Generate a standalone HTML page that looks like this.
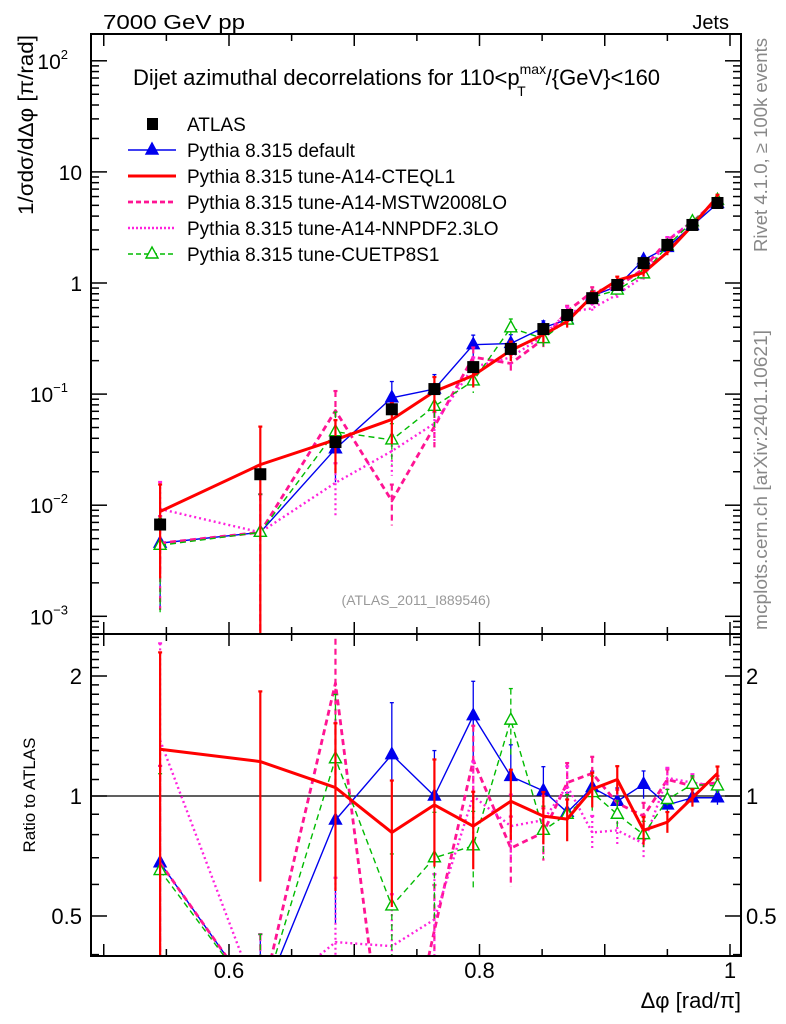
<!DOCTYPE html>
<html><head><meta charset="utf-8">
<style>
html,body{margin:0;padding:0;background:#fff;overflow:hidden;width:786px;height:1024px;}
svg{display:block;font-family:"Liberation Sans",sans-serif;}
</style></head>
<body>
<svg id="chart" width="786" height="1024" viewBox="0 0 786 1024" xmlns="http://www.w3.org/2000/svg">
<defs>
<clipPath id="clipMain"><rect x="91" y="34" width="650" height="600"/></clipPath>
<clipPath id="clipRatio"><rect x="91" y="634" width="650" height="322"/></clipPath>
</defs>
<text x="103" y="29" font-size="20" textLength="142" lengthAdjust="spacingAndGlyphs">7000 GeV pp</text>
<text x="729" y="29" font-size="20" text-anchor="end">Jets</text>
<text x="133" y="85" font-size="22">Dijet azimuthal decorrelations for 110&lt;p<tspan font-size="14" dy="-11">max</tspan><tspan font-size="14" dx="-29" dy="22">T</tspan><tspan dy="-11" dx="20">/{GeV}&lt;160</tspan></text>
<text transform="translate(33,125) rotate(-90)" font-size="21" text-anchor="middle" textLength="180" lengthAdjust="spacingAndGlyphs">1/σdσ/dΔφ [π/rad]</text>
<text transform="translate(35,795) rotate(-90)" font-size="17" text-anchor="middle">Ratio to ATLAS</text>
<text x="741" y="1008" font-size="22" text-anchor="end">Δφ [rad/π]</text>
<text transform="translate(767,145) rotate(-90)" font-size="18" fill="#888" text-anchor="middle" textLength="214" lengthAdjust="spacingAndGlyphs">Rivet 4.1.0, ≥ 100k events</text>
<text transform="translate(767,480) rotate(-90)" font-size="18" fill="#888" text-anchor="middle" textLength="300" lengthAdjust="spacingAndGlyphs">mcplots.cern.ch [arXiv:2401.10621]</text>
<text x="416" y="605" font-size="14" fill="#999" text-anchor="middle">(ATLAS_2011_I889546)</text>
<g id="axes"></g>
<g id="mainData" clip-path="url(#clipMain)"></g>
<g id="ratioData" clip-path="url(#clipRatio)"></g>
<g id="legend"></g>
<rect x="91" y="34" width="650" height="600" fill="none" stroke="#000" stroke-width="2"/>
<rect x="91" y="634" width="650" height="322" fill="none" stroke="#000" stroke-width="2"/>
</svg>
<script>
const xValues = [0.545,0.625,0.685,0.730,0.764,0.795,0.825,0.851,0.870,0.890,0.910,0.931,0.950,0.970,0.990];
const atlasValues = [0.0067,0.019,0.037,0.073,0.111,0.175,0.255,0.385,0.515,0.73,0.96,1.51,2.2,3.33,5.25];
const ratioDefault = [0.68,0.30,0.87,1.27,1.0,1.59,1.12,1.03,0.91,1.05,0.97,1.07,0.95,0.99,0.99];
const ratioCTEQL1 = [1.31,1.22,1.05,0.81,0.95,0.84,0.97,0.89,0.875,1.04,1.10,0.82,0.86,0.99,1.14];
const ratioMSTW = [0.68,0.30,1.92,0.15,0.46,1.23,0.74,0.81,1.08,1.14,0.96,0.89,1.10,1.06,1.08];
const ratioNNPDF = [1.38,0.30,0.43,0.42,0.49,1.0,0.84,0.87,1.06,0.81,0.82,0.76,1.11,1.08,1.06];
const ratioCUETP8S1 = [0.65,0.30,1.24,0.53,0.70,0.75,1.55,0.82,0.90,1.02,0.90,0.80,0.98,1.07,1.06];
const relErrors = [0.75,1.2,0.5,0.4,0.35,0.22,0.2,0.15,0.12,0.1,0.08,0.08,0.06,0.05,0.04];
const ratioRelErrors = [0.75,0.5,0.45,0.35,0.3,0.22,0.2,0.15,0.12,0.1,0.08,0.08,0.06,0.05,0.04];
const xTickLabels = ["0.6","0.8","1"];
const ratioTickLabels = ["0.5","1","2"];

const NS="http://www.w3.org/2000/svg";
function X(v){return 229+(v-0.6)*1252.5;}
function YM(v){return 283-111.1*Math.log10(v);}
function YR(v){return 796-398.6*Math.log10(v);}
function mk(tag,attrs,parent){const e=document.createElementNS(NS,tag);for(const k in attrs)e.setAttribute(k,attrs[k]);parent.appendChild(e);return e;}
const axes=document.getElementById('axes');
const mainG=document.getElementById('mainData');
const ratioG=document.getElementById('ratioData');
const legG=document.getElementById('legend');

for(let i=0;i<=10;i++){
  const v=0.5+i*0.05; const x=X(v); if(x<92||x>740)continue;
  const major=Math.abs(v*10-Math.round(v*10))<1e-6;
  const L=major?12:7;
  [[634,634-L],[34,34+L],[956,956-L],[634,634+L]].forEach(p=>{
    const t=mk('line',{x1:x,x2:x,y1:p[0],y2:p[1],stroke:'#000','stroke-width':1.5},axes);
    
    
  });
}
xTickLabels.forEach(s=>{
  const t=mk('text',{x:X(parseFloat(s)),y:978,'font-size':22,'text-anchor':'middle'},axes);
  t.textContent=s;
  
  
});
for(let d=-4;d<=2;d++){
  for(let m=1;m<=9;m++){
    const v=m*Math.pow(10,d); const y=YM(v); if(y<35||y>633)continue;
    const L=m===1?16:8;
    [[91,91+L],[741,741-L]].forEach(p=>{
      const t=mk('line',{x1:p[0],x2:p[1],y1:y,y2:y,stroke:'#000','stroke-width':1.5},axes);
      
      
    });
  }
}
const yLabels=[[2,"10","2"],[1,"10",""],[0,"1",""],[-1,"10","−1"],[-2,"10","−2"],[-3,"10","−3"]];
yLabels.forEach(l=>{
  const y=YM(Math.pow(10,l[0]))+8;
  const t=mk('text',{x:l[2]?68:82,y:y,'font-size':21,'text-anchor':'end'},axes);
  t.textContent=l[1];
  
  
  if(l[2]){const s=mk('tspan',{'font-size':13,dy:-10},t);s.textContent=l[2];}
});
[0.4,0.5,0.6,0.7,0.8,0.9,1,1.1,1.2,1.3,1.4,1.5,1.6,1.7,1.8,1.9,2,2.1,2.2,2.3,2.4,2.5].forEach(v=>{
  const y=YR(v); if(y<635||y>955)return;
  const maj=(v===0.5||v===1||v===2);
  const L=maj?16:8;
  [[91,91+L],[741,741-L]].forEach(p=>{
    const t=mk('line',{x1:p[0],x2:p[1],y1:y,y2:y,stroke:'#000','stroke-width':1.5},axes);
    
    
  });
});
ratioTickLabels.forEach(s=>{
  const y=YR(parseFloat(s))+8;
  const t=mk('text',{x:82,y:y,'font-size':22,'text-anchor':'end'},axes);
  t.textContent=s;
  
  
  const t2=mk('text',{x:746,y:y,'font-size':22},axes);
  t2.textContent=s;
  
  
});
const one=mk('line',{x1:91,x2:741,y1:YR(1),y2:YR(1),stroke:'#000','stroke-width':1.2},ratioG);



const series=[
 {name:'default',ratio:ratioDefault,color:'#0000ee',w:1.4,dash:'',marker:'tri-fill'},
 {name:'mstw2008lo',ratio:ratioMSTW,color:'#ff1493',w:2.8,dash:'6,4',marker:''},
 {name:'nnpdf23lo',ratio:ratioNNPDF,color:'#ff22dd',w:2.4,dash:'2,3',marker:''},
 {name:'cuetp8s1',ratio:ratioCUETP8S1,color:'#00bb00',w:1.4,dash:'6,4',marker:'tri-open'},
 {name:'cteql1',ratio:ratioCTEQL1,color:'#ff0000',w:3,dash:'',marker:''}
];
function marker(kind,x,y,color,g){
  if(!kind)return;
  const p=`${x},${y-7} ${x-6},${y+4} ${x+6},${y+4}`;
  const m=mk('polygon',{points:p,fill:kind==='tri-fill'?color:'#fff',stroke:color,'stroke-width':1.4},g);
  
  
}
series.forEach(s=>{
  const vals=s.ratio.map((r,i)=>r*atlasValues[i]);
  [[mainG,vals,YM,635,relErrors],[ratioG,s.ratio,YR,957,ratioRelErrors]].forEach(([g,arr,Y,bottom,errs])=>{
    const sg=mk('g',{},g);
    
    
    const ew=s.w>2?2.2:1.3;
    arr.forEach((v,i)=>{
      const x=X(xValues[i]); const e=errs[i];
      const yt=Y(v*(1+e)); const lo=v*(1-e); const yb=lo>0?Math.min(Y(lo),bottom+5):bottom+5;
      const eb=mk('line',{x1:x,x2:x,y1:yt,y2:yb,stroke:s.color,'stroke-width':ew,'stroke-dasharray':s.dash},sg);
      
      
      mk('line',{x1:x-2,x2:x+2,y1:yt,y2:yt,stroke:s.color,'stroke-width':ew},sg);
    });
    const pts=arr.map((v,i)=>X(xValues[i])+','+Y(v)).join(' ');
    const pl=mk('polyline',{points:pts,fill:'none',stroke:s.color,'stroke-width':s.w,'stroke-dasharray':s.dash,'stroke-linejoin':'round'},sg);
    
    
    arr.forEach((v,i)=>marker(s.marker,X(xValues[i]),Y(v),s.color,sg));
  });
});
atlasValues.forEach((v,i)=>{
  const r=mk('rect',{x:X(xValues[i])-6,y:YM(v)-6,width:12,height:12,fill:'#000'},mainG);
  
  
});
const leg=[
 {label:'ATLAS',type:'atlas'},
 {label:'Pythia 8.315 default',color:'#0000ee',w:1.4,dash:'',marker:'tri-fill'},
 {label:'Pythia 8.315 tune-A14-CTEQL1',color:'#ff0000',w:3,dash:'',marker:''},
 {label:'Pythia 8.315 tune-A14-MSTW2008LO',color:'#ff1493',w:2.8,dash:'5,3',marker:''},
 {label:'Pythia 8.315 tune-A14-NNPDF2.3LO',color:'#ff22dd',w:2.4,dash:'2,2',marker:''},
 {label:'Pythia 8.315 tune-CUETP8S1',color:'#00bb00',w:1.4,dash:'5,3',marker:'tri-open'}
];
leg.forEach((l,i)=>{
  const y=124+i*26;
  const g=mk('g',{},legG);
  
  
  if(l.type==='atlas'){mk('rect',{x:147,y:y-6,width:11,height:12,fill:'#000'},g);}
  else{mk('line',{x1:128,x2:176,y1:y,y2:y,stroke:l.color,'stroke-width':l.w,'stroke-dasharray':l.dash},g);marker(l.marker,152,y,l.color,g);}
  const t=mk('text',{x:187,y:y+7,'font-size':19},g);
  t.textContent=l.label;
});
</script>
</body></html>
